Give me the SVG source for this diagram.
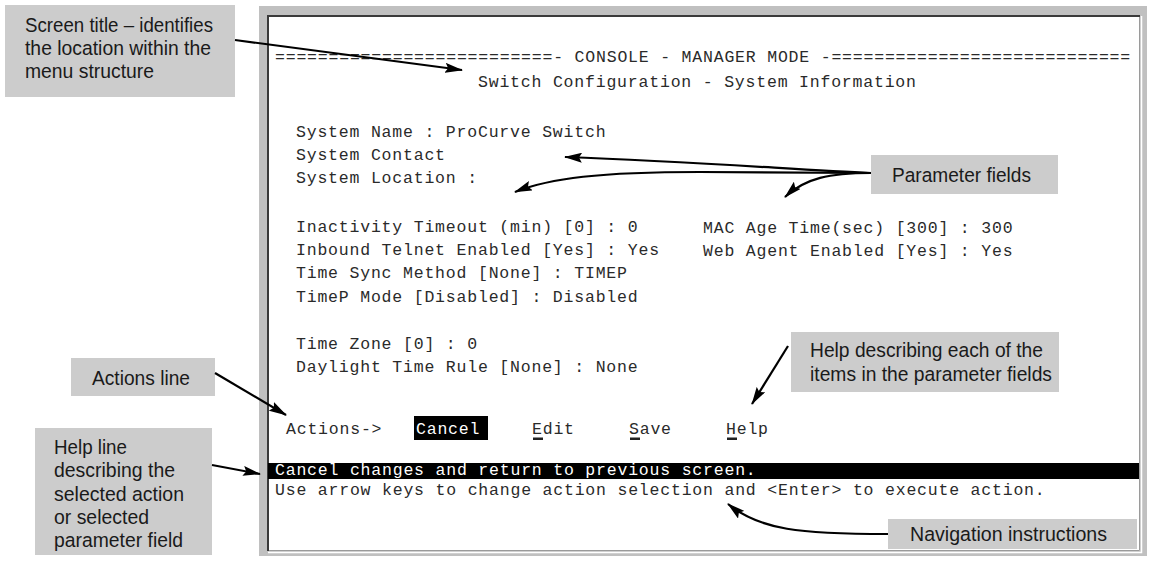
<svg xmlns="http://www.w3.org/2000/svg" width="1149" height="561" viewBox="0 0 1149 561">
  <style>
    .call { fill: #cccccc; }
    .ct { font-family: "Liberation Sans", Arial, sans-serif; font-size: 20.5px; fill: #1a1a1a; }
    .con { font-family: "Liberation Mono", "Courier New", monospace; font-size: 16.5px; letter-spacing: 0.8px; fill: #2a2a2a; white-space: pre; }
    .inv { font-family: "Liberation Mono", "Courier New", monospace; font-size: 16.5px; letter-spacing: 0.8px; fill: #ffffff; white-space: pre; }
    .link { fill: none; stroke: #000000; stroke-width: 2.2; marker-end: url(#ah); }
  </style>
  <defs>
    <marker id="ah" viewBox="0 0 18 10" refX="17" refY="5" markerWidth="18" markerHeight="10" orient="auto" markerUnits="userSpaceOnUse">
      <path d="M0,0 L18,5 L0,10 L3,5 Z" fill="#000000"/>
    </marker>
  </defs>

  <rect width="1149" height="561" fill="#ffffff"/>

  <!-- console screen: 80 columns, 10.7px per column starting at x=275 -->
  <g id="console">
    <rect x="259" y="6" width="888" height="550" fill="#c0c0c0"/>
    <rect x="268" y="16" width="872" height="535" fill="#ffffff"/>
    <path d="M268,551 L268,16 L1140,16" fill="none" stroke="#3a3a3a" stroke-width="2"/>
    <path d="M1139.5,17 L1139.5,550.5 L269,550.5" fill="none" stroke="#9a9a9a" stroke-width="1"/>
    <path d="M1141.5,16 L1141.5,552.5 L268,552.5" fill="none" stroke="#ffffff" stroke-width="1.5"/>

    <text class="con" x="275" y="62" textLength="856" lengthAdjust="spacingAndGlyphs">==========================- CONSOLE - MANAGER MODE -============================</text>
    <text class="con" x="478" y="87">Switch Configuration - System Information</text>

    <text class="con" x="296" y="137">System Name : ProCurve Switch</text>
    <text class="con" x="296" y="160">System Contact</text>
    <text class="con" x="296" y="183">System Location :</text>

    <text class="con" x="296" y="232">Inactivity Timeout (min) [0] : 0</text>
    <text class="con" x="703" y="233">MAC Age Time(sec) [300] : 300</text>
    <text class="con" x="296" y="255">Inbound Telnet Enabled [Yes] : Yes</text>
    <text class="con" x="703" y="256">Web Agent Enabled [Yes] : Yes</text>
    <text class="con" x="296" y="278">Time Sync Method [None] : TIMEP</text>
    <text class="con" x="296" y="302">TimeP Mode [Disabled] : Disabled</text>

    <text class="con" x="296" y="349">Time Zone [0] : 0</text>
    <text class="con" x="296" y="372">Daylight Time Rule [None] : None</text>

    <text class="con" x="286" y="434">Actions-&gt;</text>
    <rect x="414" y="416" width="74" height="24" fill="#000000"/>
    <text class="inv" x="416" y="434">Cancel</text>
    <text class="con" x="532" y="434">Edit</text>
    <text class="con" x="629" y="434">Save</text>
    <text class="con" x="726" y="434">Help</text>
    <rect x="533" y="437.5" width="10" height="2.5" fill="#222222"/>
    <rect x="630" y="437.5" width="10" height="2.5" fill="#222222"/>
    <rect x="727" y="437.5" width="10" height="2.5" fill="#222222"/>

    <rect x="268" y="463" width="871" height="16" fill="#000000"/>
    <text class="inv" x="275" y="475">Cancel changes and return to previous screen.</text>
    <text class="con" x="275" y="495">Use arrow keys to change action selection and &lt;Enter&gt; to execute action.</text>
  </g>

  <!-- callout labels -->
  <g id="screen-title">
    <rect class="call" x="5" y="5" width="230" height="92"/>
    <text class="ct" x="25" y="32" textLength="188" lengthAdjust="spacingAndGlyphs">Screen title – identifies</text>
    <text class="ct" x="25" y="55" textLength="186" lengthAdjust="spacingAndGlyphs">the location within the</text>
    <text class="ct" x="25" y="78" textLength="129" lengthAdjust="spacingAndGlyphs">menu structure</text>
  </g>

  <g id="parameter-fields">
    <rect class="call" x="871" y="155" width="187" height="39"/>
    <text class="ct" x="892" y="182" textLength="139" lengthAdjust="spacingAndGlyphs">Parameter fields</text>
  </g>

  <g id="help-describing">
    <rect class="call" x="791" y="332" width="268" height="60"/>
    <text class="ct" x="810" y="357" textLength="233" lengthAdjust="spacingAndGlyphs">Help describing each of the</text>
    <text class="ct" x="810" y="381" textLength="242" lengthAdjust="spacingAndGlyphs">items in the parameter fields</text>
  </g>

  <g id="actions-line">
    <rect class="call" x="71" y="358" width="144" height="38"/>
    <text class="ct" x="92" y="385" textLength="98" lengthAdjust="spacingAndGlyphs">Actions line</text>
  </g>

  <g id="help-line">
    <rect class="call" x="35" y="428" width="177" height="127"/>
    <text class="ct" x="54" y="454" textLength="73" lengthAdjust="spacingAndGlyphs">Help line</text>
    <text class="ct" x="54" y="477" textLength="121" lengthAdjust="spacingAndGlyphs">describing the</text>
    <text class="ct" x="54" y="501" textLength="130" lengthAdjust="spacingAndGlyphs">selected action</text>
    <text class="ct" x="54" y="524" textLength="95" lengthAdjust="spacingAndGlyphs">or selected</text>
    <text class="ct" x="54" y="547" textLength="129" lengthAdjust="spacingAndGlyphs">parameter field</text>
  </g>

  <g id="navigation">
    <rect class="call" x="888" y="519" width="249" height="30"/>
    <text class="ct" x="910" y="541" textLength="197" lengthAdjust="spacingAndGlyphs">Navigation instructions</text>
  </g>

  <!-- connectors -->
  <g id="connectors">
    <path class="link" d="M235,40 L462,70"/>
    <path class="link" d="M871,173 C800,170 700,162 565,157"/>
    <path class="link" d="M871,173 L700,172 C600,172 550,178 515,192"/>
    <path class="link" d="M871,173 C830,173 805,178 785,197"/>
    <path class="link" d="M788,346 L752,404"/>
    <path class="link" d="M215,373 L286,415"/>
    <path class="link" d="M212,465 L260,474"/>
    <path class="link" d="M888,534 C800,534 760,530 728,504"/>
  </g>
</svg>
